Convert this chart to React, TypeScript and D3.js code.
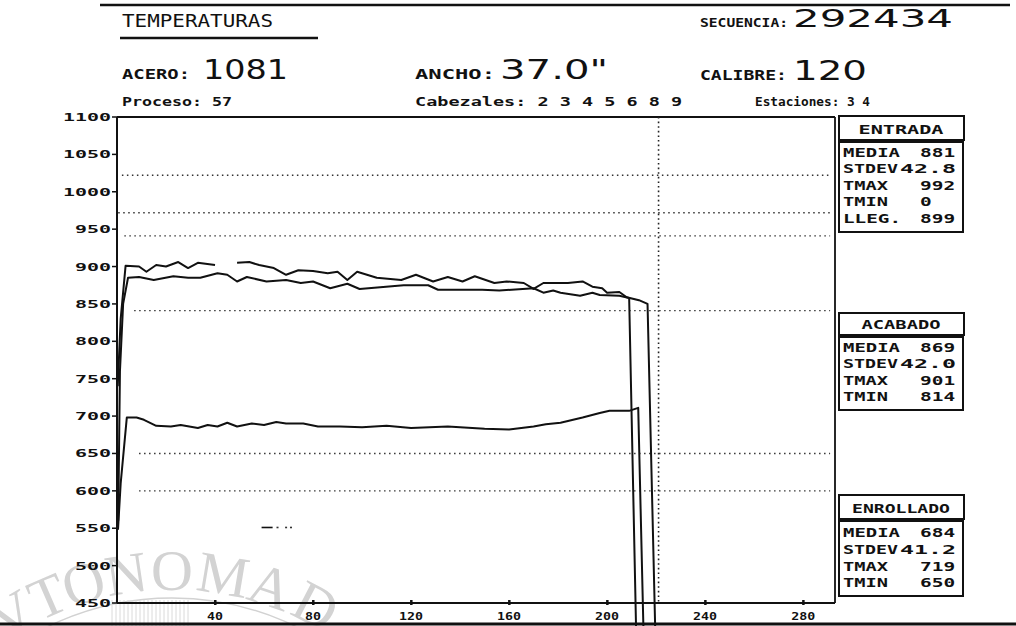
import * as d3 from 'd3'

const W = 1016
const H = 626

// x = position along strip (metros), y = temperatura
const xTicks = [40, 80, 120, 160, 200, 240, 280]
const yTicks = [450, 500, 550, 600, 650, 700, 750, 800, 850, 900, 950, 1000, 1050, 1100]

const limitValues = [1022, 972, 941, 841, 650, 600]
const limitStarts = [2, 0.5, 3, 7, 9, 9]
const cursorT = 221

const entrada: [number, number | null][] = [
  [0.3, 740], [1.5, 830], [3.5, 901], [9, 900], [12, 893], [16, 902], [20, 900],
  [25, 906], [29, 898], [33, 905], [40, 902], [44, null], [49, 905], [54, 906],
  [58, 902], [64, 898], [69, 889], [74, 895], [80, 894], [86, 891], [90, 893],
  [94, 882], [98, 893], [106, 885], [116, 882], [122, 889], [129, 880], [135, 886],
  [141, 880], [146, 887], [154, 878], [159, 880], [166, 878], [170, 870], [174, 878],
  [184, 878], [190, 880], [194, 873], [198, 871], [200, 865], [205, 866], [208, 859],
  [213, 855], [216.5, 850], [219.6, 420], [219.8, 400],
]

const acabado: [number, number | null][] = [
  [0.5, 560], [1.2, 760], [2.5, 850], [4.5, 885], [9, 886], [15, 882], [23, 887],
  [29, 885], [34, 885], [41, 891], [45, 889], [49, 880], [53, 886], [61, 880],
  [69, 882], [75, 878], [80, 880], [87, 871], [94, 877], [99, 870], [117, 875],
  [127, 875], [131, 869], [149, 869], [156, 868], [170, 871], [174, 865], [178, 868],
  [181, 865], [189, 861], [194, 865], [197, 862], [205, 861], [209, 858],
  [211.8, 420], [212, 400],
]

const enrollado: [number, number | null][] = [
  [0.4, 548], [1.5, 610], [4, 698], [8, 698], [11, 695], [16, 687], [22, 686],
  [26, 688], [33, 684], [37, 688], [41, 686], [45, 691], [49, 686], [55, 690],
  [60, 688], [65, 692], [69, 690], [76, 690], [82, 686], [91, 686], [100, 685],
  [110, 687], [120, 684], [135, 686], [150, 683], [160, 682], [165, 684], [170, 686],
  [175, 689], [181, 691], [190, 698], [197, 704], [201, 707], [209, 707],
  [212.7, 711], [214.8, 420], [215, 400],
]

const stray: [number, number | null][] = [[59, 551], [63.5, 551]]
const strayDots = [65.5, 69, 71]

const statsEntrada: [string, string][] = [
  ['MEDIA', '881'], ['STDEV', '42.8'], ['TMAX', '992'], ['TMIN', '0'], ['LLEG.', '899'],
]
const statsAcabado: [string, string][] = [
  ['MEDIA', '869'], ['STDEV', '42.0'], ['TMAX', '901'], ['TMIN', '814'],
]
const statsEnrollado: [string, string][] = [
  ['MEDIA', '684'], ['STDEV', '41.2'], ['TMAX', '719'], ['TMIN', '650'],
]

// scanned seal watermark letters and their angle on the ring (degrees)
const sealLetters = ['V', 'T', 'O', 'N', 'O', 'M', 'A', 'D']
const sealAngles = [-31, -23.5, -16.5, -8.5, 0, 9.5, 18.5, 27.5]

const mono = "'DejaVu Sans Mono', monospace"
const thin = "'DejaVu Sans', sans-serif"

const Txt = ({ x, y, len, size, children, anchor = 'start', font = mono, weight = 'bold' }: any) => (
  <text
    x={x}
    y={y}
    fontFamily={font}
    fontWeight={weight}
    fontSize={size}
    textAnchor={anchor}
    textLength={len}
    lengthAdjust="spacingAndGlyphs"
    fill="#111"
  >
    {children}
  </text>
)

const StatBox = ({ title, titleLen, top, headH, rows, rowYs }: any) => {
  const labLen: Record<string, number> = { MEDIA: 57, STDEV: 55, TMAX: 45, TMIN: 45, 'LLEG.': 58 }
  const boxBottom = rowYs[rowYs.length - 1] + 9
  return (
    <g>
      <rect x={839} y={top} width={125} height={headH} fill="none" stroke="#111" strokeWidth={2} />
      <rect x={839} y={top + headH + 2} width={124} height={boxBottom - (top + headH + 2)} fill="none" stroke="#111" strokeWidth={2} />
      <Txt x={901} y={top + headH - 6} len={titleLen} size={12} anchor="middle">{title}</Txt>
      {rows.map(([lab, val]: [string, string], i: number) => {
        const dec = val.includes('.')
        return (
          <g key={lab}>
            <Txt x={843} y={rowYs[i]} len={labLen[lab]} size={12}>{lab}</Txt>
            <Txt x={dec ? 900 : 920} y={rowYs[i]} len={dec ? 56 : val.length * 11.7} size={12}>{val}</Txt>
          </g>
        )
      })}
    </g>
  )
}

export default function App() {
  const x = d3.scaleLinear().domain([0, 293]).range([117, 835])
  const y = d3.scaleLinear().domain([450, 1100]).range([603, 117])

  const line = d3
    .line<[number, number | null]>()
    .defined((d) => d[1] !== null)
    .x((d) => x(d[0]))
    .y((d) => y(d[1] as number))

  // watermark seal (decorative)
  const cx = 172
  const cy = 882
  const polar = (r: number, a: number) => [
    cx + r * Math.sin((a * Math.PI) / 180),
    cy - r * Math.cos((a * Math.PI) / 180),
  ]
  const arcPath = (r: number, a0: number, a1: number) => {
    const [x0, y0] = polar(r, a0)
    const [x1, y1] = polar(r, a1)
    return `M${x0},${y0} A${r},${r} 0 0 1 ${x1},${y1}`
  }

  return (
    <svg
      width={W}
      height={H}
      style={{ position: 'absolute', left: 0, top: 0, background: '#fff' }}
    >
      <rect width={W} height={H} fill="#fff" />

      {/* watermark */}
      <g>
        {sealLetters.map((ch, i) => {
          const [px, py] = polar(292, sealAngles[i])
          return (
            <text
              key={i}
              transform={`translate(${px},${py}) rotate(${sealAngles[i]})`}
              textAnchor="middle"
              fontFamily="'Liberation Serif', serif"
              fontSize={58}
              fill="#d3d3d3"
            >
              {ch}
            </text>
          )
        })}
        <path d={arcPath(284, -45, 45)} fill="none" stroke="#d2d2d2" strokeWidth={1.5} />
        {d3.range(112, 192, 4).map((hx) => (
          <line key={hx} x1={hx} x2={hx} y1={600} y2={626} stroke="#dadada" strokeWidth={1} />
        ))}
      </g>

      {/* borders */}
      <line x1={100} x2={1010} y1={5} y2={5} stroke="#111" strokeWidth={2.5} />
      <line x1={0} x2={W} y1={624} y2={624} stroke="#111" strokeWidth={3} />

      {/* header */}
      <Txt x={122} y={27} len={151} size={17} weight="normal">TEMPERATURAS</Txt>
      <line x1={120} x2={318} y1={38} y2={38} stroke="#111" strokeWidth={2.5} />
      <Txt x={700} y={27} len={88} size={13}>SECUENCIA:</Txt>
      <Txt x={793} y={27} len={160} size={24} font={thin} weight="normal">292434</Txt>

      <Txt x={122} y={79} len={68} size={14}>ACERO:</Txt>
      <Txt x={203} y={79} len={85} size={26} font={thin} weight="normal">1081</Txt>
      <Txt x={415} y={79} len={80} size={14}>ANCHO:</Txt>
      <Txt x={500} y={79} len={108} size={26} font={thin} weight="normal">37.0"</Txt>
      <Txt x={700} y={80} len={87} size={14}>CALIBRE:</Txt>
      <Txt x={793} y={80} len={74} size={26} font={thin} weight="normal">120</Txt>

      <Txt x={122} y={106} len={110} size={12}>Proceso: 57</Txt>
      <Txt x={415} y={106} len={267} size={12}>Cabezales: 2 3 4 5 6 8 9</Txt>
      <Txt x={755} y={106} len={115} size={12}>Estaciones: 3 4</Txt>

      {/* frame */}
      <line x1={117} x2={835} y1={117} y2={117} stroke="#111" strokeWidth={2} />
      <line x1={835} x2={835} y1={117} y2={603} stroke="#111" strokeWidth={1.8} />

      {/* limit lines */}
      {limitValues.map((v, i) => (
        <line
          key={v}
          x1={x(limitStarts[i])}
          x2={x(291)}
          y1={y(v)}
          y2={y(v)}
          stroke="#333"
          strokeWidth={1.4}
          strokeDasharray="1.5 3.5"
        />
      ))}
      <line
        x1={x(cursorT)}
        x2={x(cursorT)}
        y1={y(1100)}
        y2={y(450)}
        stroke="#222"
        strokeWidth={1.6}
        strokeDasharray="1.6 3"
      />

      {/* series */}
      {[entrada, acabado, enrollado].map((s, i) => (
        <path key={i} d={line(s) ?? ''} fill="none" stroke="#111" strokeWidth={2} strokeLinejoin="round" />
      ))}
      <path d={line(stray) ?? ''} fill="none" stroke="#111" strokeWidth={1.6} />
      {strayDots.map((t) => (
        <rect key={t} x={x(t) - 1} y={y(551) - 0.8} width={2} height={1.6} fill="#333" />
      ))}

      {/* axes */}
      <line x1={117} x2={117} y1={117} y2={603} stroke="#111" strokeWidth={2} />
      <line x1={117} x2={835} y1={603} y2={603} stroke="#111" strokeWidth={2} />
      {yTicks.map((v) => (
        <g key={v}>
          <line x1={112} x2={117} y1={y(v)} y2={y(v)} stroke="#111" strokeWidth={1.5} />
          <Txt x={111} y={y(v) + 4} len={String(v).length * 12} size={11} anchor="end">{v}</Txt>
        </g>
      ))}
      {xTicks.map((t) => (
        <g key={t}>
          <rect x={x(t) - 1} y={600} width={2.5} height={5} fill="#111" />
          <Txt x={x(t)} y={620} len={String(t).length * 8} size={10} anchor="middle">{t}</Txt>
        </g>
      ))}

      {/* stat boxes */}
      <StatBox title="ENTRADA" titleLen={85} top={116} headH={24} rows={statsEntrada} rowYs={[157, 173, 190, 206, 223]} />
      <StatBox title="ACABADO" titleLen={79} top={313} headH={22} rows={statsAcabado} rowYs={[352, 368, 385, 401]} />
      <StatBox title="ENROLLADO" titleLen={98} top={495} headH={24} rows={statsEnrollado} rowYs={[537, 554, 571, 587]} />
    </svg>
  )
}
